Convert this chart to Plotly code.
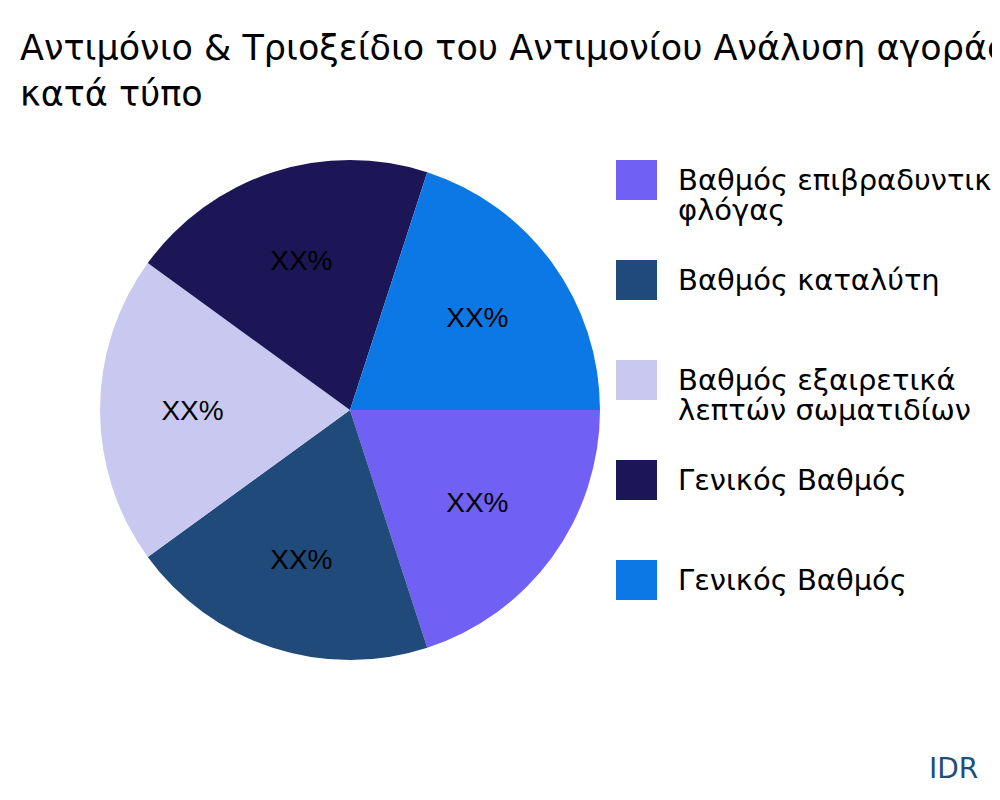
import plotly.graph_objects as go

labels = ["Βαθμός επιβραδυντικού<br>φλόγας", "Βαθμός καταλύτη", "Βαθμός εξαιρετικά<br>λεπτών σωματιδίων", "Γενικός Βαθμός", "Γενικός Βαθμός "]
values = [20, 20, 20, 20, 20]
colors = ["#7060F4", "#1F4A7A", "#C8C8F0", "#1C1656", "#0B78E6"]

W, H = 1000, 800
OFF = 8  # page offset
FONT = "DejaVu Sans"
fig = go.Figure(go.Pie(
    labels=labels, values=values, sort=False, direction="clockwise", rotation=90,
    marker=dict(colors=colors), text=["XX%"] * 5, textinfo="text",
    textfont=dict(family="Liberation Sans, Arial", size=28, color="black"),
    domain=dict(x=[0.092, 0.592], y=[0.185, 0.81]), hoverinfo="label", showlegend=False,
))

def px(x): return (x - OFF) / W
def py(y): return 1 - (y - OFF) / H

shapes, anns = [], []
for i, (lab, col) in enumerate(zip(labels, colors)):
    cy = 180 + 100 * i
    shapes.append(dict(type="rect", xref="paper", yref="paper",
                       x0=px(616), x1=px(657), y0=py(cy - 20), y1=py(cy + 20),
                       fillcolor=col, line=dict(width=0)))
    lines = lab.strip().split("<br>")
    for j, ln in enumerate(lines):
        ly = cy + 30 * j
        anns.append(dict(text=ln, xref="paper", yref="paper", x=px(676),
                         y=py(ly), xanchor="left", yanchor="middle",
                         align="left", showarrow=False,
                         font=dict(family=FONT, size=29, color="black")))
anns.append(dict(text="IDR", x=px(980), y=py(768), xref="paper", yref="paper",
                 xanchor="right", yanchor="middle", showarrow=False,
                 font=dict(family=FONT, size=28, color="#1F4E79")))

fig.update_layout(
    width=W, height=H, margin=dict(l=0, r=0, t=0, b=0),
    paper_bgcolor="white", showlegend=False,
    title=dict(text="Αντιμόνιο & Τριοξείδιο του Αντιμονίου Ανάλυση αγοράς<br>κατά τύπο",
               x=px(20), xanchor="left", y=py(60), yanchor="middle",
               font=dict(family=FONT, size=35, color="black")),
    shapes=shapes, annotations=anns,
)
fig.write_html("out.html")
